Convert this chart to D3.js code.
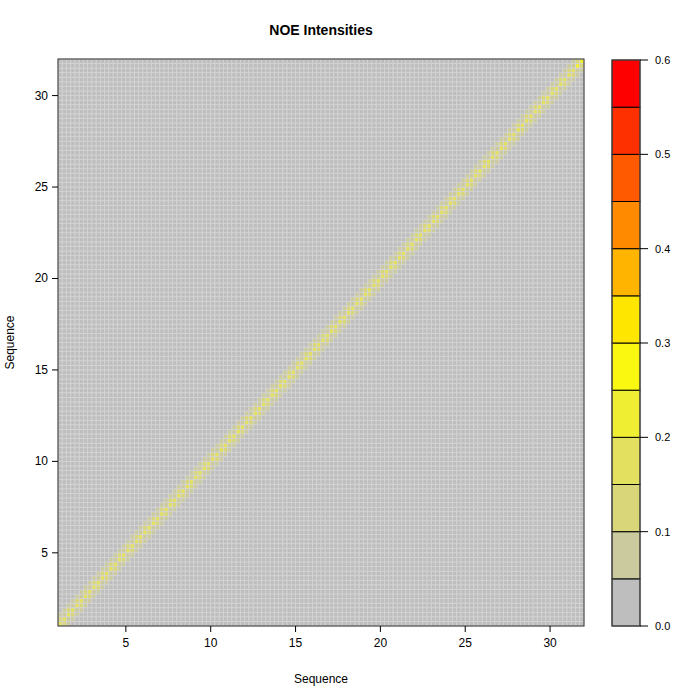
<!DOCTYPE html>
<html><head><meta charset="utf-8">
<script src="https://cdn.jsdelivr.net/npm/d3@7"></script>
<style>body{margin:0;background:#fff}text{font-family:"Liberation Sans",Arial,sans-serif}</style>
</head><body><svg id="c" width="700" height="700"></svg>
<script>
// ---- data ----
const title = "NOE Intensities";
const xLabel = "Sequence", yLabel = "Sequence";
const axisTicks = [5, 10, 15, 20, 25, 30];
const legendTicks = [0.0, 0.1, 0.2, 0.3, 0.4, 0.5, 0.6];
const legendBreaks = [0, 0.05, 0.1, 0.15, 0.2, 0.25, 0.3, 0.35, 0.4, 0.45, 0.5, 0.55, 0.6];
const legendColors = ["#BEBEBE","#CBCA9E","#D8D678","#E3E05F","#EFEE33","#FAF810","#FFE600","#FFB400","#FF8A00","#FF5A00","#FF3000","#FF0000"];
// atom groups along sequence (two per residue), self-peak intensities on diagonal
const groupPos = [1.25,1.75,2.25,2.75,3.25,3.75,4.25,4.75,5.25,5.75,6.25,6.75,7.25,7.75,8.25,8.75,9.25,9.75,10.25,10.75,11.25,11.75,12.25,12.75,13.25,13.75,14.25,14.75,15.25,15.75,16.25,16.75,17.25,17.75,18.25,18.75,19.25,19.75,20.25,20.75,21.25,21.75,22.25,22.75,23.25,23.75,24.25,24.75,25.25,25.75,26.25,26.75,27.25,27.75,28.25,28.75,29.25,29.75,30.25,30.75,31.25,31.75];
const selfPeak = [0.19,0.17,0.19,0.17,0.19,0.17,0.19,0.17,0.19,0.17,0.19,0.17,0.19,0.17,0.19,0.17,0.19,0.17,0.19,0.17,0.19,0.17,0.19,0.17,0.19,0.17,0.19,0.17,0.19,0.17,0.19,0.17,0.19,0.17,0.19,0.17,0.19,0.17,0.19,0.17,0.19,0.17,0.19,0.17,0.19,0.17,0.19,0.17,0.19,0.17,0.19,0.17,0.19,0.17,0.19,0.17,0.19,0.17,0.19,0.17,0.19,0.21];
const neighbourPeak = [0.12,0.11,0.12,0.11,0.12,0.11,0.12,0.11,0.12,0.11,0.12,0.11,0.12,0.11,0.12,0.11,0.12,0.11,0.12,0.11,0.12,0.11,0.12,0.11,0.12,0.11,0.12,0.11,0.12,0.11,0.12,0.11,0.12,0.11,0.12,0.11,0.12,0.11,0.12,0.11,0.12,0.11,0.12,0.11,0.12,0.11,0.12,0.11,0.12,0.11,0.12,0.11,0.12,0.11,0.12,0.11,0.12,0.11,0.12,0.11,0.12,0.13];
const crossPeak = 0.07;
const cellsPerGroup = 2;

// ---- layout ----
const svg = d3.select("#c");
const L = 58, R = 584, T = 59, B = 626;
const x = d3.scaleLinear().domain([1, 32]).range([L, R]);
const y = d3.scaleLinear().domain([1, 32]).range([B, T]);
const color = d3.scaleThreshold().domain(legendBreaks.slice(1, -1)).range(legendColors);

// build cell matrix
const n = groupPos.length * cellsPerGroup;
const step = (32 - 1) / n;
const cells = [];
for (let i = 0; i < n; i++) {
  for (let j = 0; j < n; j++) {
    const gi = Math.floor(i / cellsPerGroup), gj = Math.floor(j / cellsPerGroup);
    let v = 0.0;
    if (gi === gj) v = (i === j) ? selfPeak[gi] : neighbourPeak[gi];
    else if (Math.abs(i - j) === 1) v = neighbourPeak[Math.min(gi, gj)] - 0.02;
    else if (Math.abs(i - j) === 2) v = crossPeak;
    cells.push({x0: 1 + i * step, y0: 1 + j * step, v});
  }
}
svg.append("g").selectAll("rect").data(cells).join("rect")
  .attr("x", d => x(d.x0)).attr("y", d => y(d.y0 + step))
  .attr("width", x(1 + step) - x(1)).attr("height", y(1) - y(1 + step))
  .attr("fill", d => color(d.v))
  .attr("stroke", "#D4D4D4").attr("stroke-width", 0.8);

svg.append("rect").attr("x", L).attr("y", T).attr("width", R - L).attr("height", B - T)
  .attr("fill", "none").attr("stroke", "#333").attr("stroke-width", 1);

// axes
const xa = svg.append("g");
axisTicks.forEach(t => {
  xa.append("line").attr("x1", x(t)).attr("x2", x(t)).attr("y1", B).attr("y2", B + 6).attr("stroke", "#000");
  xa.append("text").attr("x", x(t)).attr("y", B + 21).attr("text-anchor", "middle").attr("font-size", 12).text(t);
  xa.append("line").attr("x1", L - 6).attr("x2", L).attr("y1", y(t)).attr("y2", y(t)).attr("stroke", "#000");
  xa.append("text").attr("x", L - 10).attr("y", y(t) + 4).attr("text-anchor", "end").attr("font-size", 12).text(t);
});
svg.append("text").attr("x", (L + R) / 2).attr("y", 683).attr("text-anchor", "middle").attr("font-size", 12).text(xLabel);
svg.append("text").attr("transform", `translate(14,${(T + B) / 2}) rotate(-90)`).attr("text-anchor", "middle").attr("font-size", 12).text(yLabel);
svg.append("text").attr("x", 321).attr("y", 35).attr("text-anchor", "middle").attr("font-size", 14).attr("font-weight", "bold").text(title);

// legend
const ly = d3.scaleLinear().domain([0, 0.6]).range([626, 60]);
const lg = svg.append("g");
lg.selectAll("rect").data(legendColors).join("rect")
  .attr("x", 612).attr("width", 28)
  .attr("y", (d, i) => ly(legendBreaks[i + 1])).attr("height", (d, i) => ly(legendBreaks[i]) - ly(legendBreaks[i + 1]))
  .attr("fill", d => d).attr("stroke", "#000").attr("stroke-width", 1);
lg.append("rect").attr("x", 612).attr("y", 60).attr("width", 28).attr("height", 566).attr("fill", "none").attr("stroke", "#555").attr("stroke-width", 1);
legendTicks.forEach(t => {
  lg.append("line").attr("x1", 640).attr("x2", 648).attr("y1", ly(t)).attr("y2", ly(t)).attr("stroke", "#000");
  lg.append("text").attr("x", 655).attr("y", ly(t) + 4).attr("font-size", 11).text(t.toFixed(1));
});
</script></body></html>
